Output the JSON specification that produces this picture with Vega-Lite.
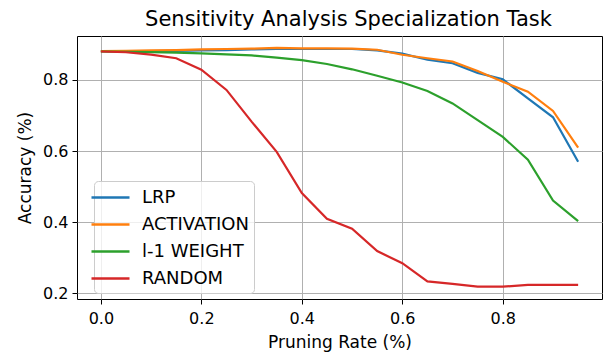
{
  "$schema": "https://vega.github.io/schema/vega-lite/v6.json",
  "width": 525,
  "height": 263,
  "autosize": "none",
  "padding": {"left": 77, "top": 36, "right": 4, "bottom": 59},
  "background": "white",
  "title": {
    "text": "Sensitivity Analysis Specialization Task",
    "font": "DejaVu Sans",
    "fontSize": 21,
    "fontWeight": "normal",
    "color": "black",
    "offset": 6,
    "dx": 9
  },
  "config": {
    "view": {"stroke": "black", "strokeWidth": 1},
    "font": "DejaVu Sans"
  },
  "data": {
    "values": [
      {"rate": 0.0, "method": "LRP", "acc": 0.881},
      {"rate": 0.05, "method": "LRP", "acc": 0.881},
      {"rate": 0.1, "method": "LRP", "acc": 0.881},
      {"rate": 0.15, "method": "LRP", "acc": 0.882},
      {"rate": 0.2, "method": "LRP", "acc": 0.883},
      {"rate": 0.25, "method": "LRP", "acc": 0.884},
      {"rate": 0.3, "method": "LRP", "acc": 0.886},
      {"rate": 0.35, "method": "LRP", "acc": 0.887},
      {"rate": 0.4, "method": "LRP", "acc": 0.887},
      {"rate": 0.45, "method": "LRP", "acc": 0.887},
      {"rate": 0.5, "method": "LRP", "acc": 0.887},
      {"rate": 0.55, "method": "LRP", "acc": 0.883},
      {"rate": 0.6, "method": "LRP", "acc": 0.874},
      {"rate": 0.65, "method": "LRP", "acc": 0.857},
      {"rate": 0.7, "method": "LRP", "acc": 0.847},
      {"rate": 0.75, "method": "LRP", "acc": 0.820},
      {"rate": 0.8, "method": "LRP", "acc": 0.802},
      {"rate": 0.85, "method": "LRP", "acc": 0.748},
      {"rate": 0.9, "method": "LRP", "acc": 0.695},
      {"rate": 0.95, "method": "LRP", "acc": 0.570},
      {"rate": 0.0, "method": "ACTIVATION", "acc": 0.881},
      {"rate": 0.05, "method": "ACTIVATION", "acc": 0.882},
      {"rate": 0.1, "method": "ACTIVATION", "acc": 0.883},
      {"rate": 0.15, "method": "ACTIVATION", "acc": 0.884},
      {"rate": 0.2, "method": "ACTIVATION", "acc": 0.886},
      {"rate": 0.25, "method": "ACTIVATION", "acc": 0.887},
      {"rate": 0.3, "method": "ACTIVATION", "acc": 0.888},
      {"rate": 0.35, "method": "ACTIVATION", "acc": 0.890},
      {"rate": 0.4, "method": "ACTIVATION", "acc": 0.889},
      {"rate": 0.45, "method": "ACTIVATION", "acc": 0.889},
      {"rate": 0.5, "method": "ACTIVATION", "acc": 0.888},
      {"rate": 0.55, "method": "ACTIVATION", "acc": 0.885},
      {"rate": 0.6, "method": "ACTIVATION", "acc": 0.871},
      {"rate": 0.65, "method": "ACTIVATION", "acc": 0.861},
      {"rate": 0.7, "method": "ACTIVATION", "acc": 0.852},
      {"rate": 0.75, "method": "ACTIVATION", "acc": 0.825},
      {"rate": 0.8, "method": "ACTIVATION", "acc": 0.795},
      {"rate": 0.85, "method": "ACTIVATION", "acc": 0.767},
      {"rate": 0.9, "method": "ACTIVATION", "acc": 0.713},
      {"rate": 0.95, "method": "ACTIVATION", "acc": 0.610},
      {"rate": 0.0, "method": "l-1 WEIGHT", "acc": 0.880},
      {"rate": 0.05, "method": "l-1 WEIGHT", "acc": 0.879},
      {"rate": 0.1, "method": "l-1 WEIGHT", "acc": 0.878},
      {"rate": 0.15, "method": "l-1 WEIGHT", "acc": 0.877},
      {"rate": 0.2, "method": "l-1 WEIGHT", "acc": 0.875},
      {"rate": 0.25, "method": "l-1 WEIGHT", "acc": 0.872},
      {"rate": 0.3, "method": "l-1 WEIGHT", "acc": 0.869},
      {"rate": 0.35, "method": "l-1 WEIGHT", "acc": 0.863},
      {"rate": 0.4, "method": "l-1 WEIGHT", "acc": 0.856},
      {"rate": 0.45, "method": "l-1 WEIGHT", "acc": 0.845},
      {"rate": 0.5, "method": "l-1 WEIGHT", "acc": 0.830},
      {"rate": 0.55, "method": "l-1 WEIGHT", "acc": 0.812},
      {"rate": 0.6, "method": "l-1 WEIGHT", "acc": 0.793},
      {"rate": 0.65, "method": "l-1 WEIGHT", "acc": 0.769},
      {"rate": 0.7, "method": "l-1 WEIGHT", "acc": 0.734},
      {"rate": 0.75, "method": "l-1 WEIGHT", "acc": 0.687},
      {"rate": 0.8, "method": "l-1 WEIGHT", "acc": 0.640},
      {"rate": 0.85, "method": "l-1 WEIGHT", "acc": 0.576},
      {"rate": 0.9, "method": "l-1 WEIGHT", "acc": 0.461},
      {"rate": 0.95, "method": "l-1 WEIGHT", "acc": 0.403},
      {"rate": 0.0, "method": "RANDOM", "acc": 0.880},
      {"rate": 0.05, "method": "RANDOM", "acc": 0.878},
      {"rate": 0.1, "method": "RANDOM", "acc": 0.871},
      {"rate": 0.15, "method": "RANDOM", "acc": 0.861},
      {"rate": 0.2, "method": "RANDOM", "acc": 0.829},
      {"rate": 0.25, "method": "RANDOM", "acc": 0.772},
      {"rate": 0.3, "method": "RANDOM", "acc": 0.683},
      {"rate": 0.35, "method": "RANDOM", "acc": 0.598},
      {"rate": 0.4, "method": "RANDOM", "acc": 0.482},
      {"rate": 0.45, "method": "RANDOM", "acc": 0.410},
      {"rate": 0.5, "method": "RANDOM", "acc": 0.382},
      {"rate": 0.55, "method": "RANDOM", "acc": 0.319},
      {"rate": 0.6, "method": "RANDOM", "acc": 0.285},
      {"rate": 0.65, "method": "RANDOM", "acc": 0.234},
      {"rate": 0.7, "method": "RANDOM", "acc": 0.227},
      {"rate": 0.75, "method": "RANDOM", "acc": 0.219},
      {"rate": 0.8, "method": "RANDOM", "acc": 0.219},
      {"rate": 0.85, "method": "RANDOM", "acc": 0.224},
      {"rate": 0.9, "method": "RANDOM", "acc": 0.224},
      {"rate": 0.95, "method": "RANDOM", "acc": 0.224}
    ]
  },
  "mark": {"type": "line", "strokeWidth": 2.2, "clip": true},
  "encoding": {
    "x": {
      "field": "rate",
      "type": "quantitative",
      "scale": {"domain": [-0.0475, 0.9975], "nice": false, "zero": false},
      "axis": {
        "title": "Pruning Rate (%)",
        "values": [0, 0.2, 0.4, 0.6, 0.8],
        "format": ".1f",
        "grid": true,
        "gridColor": "#b0b0b0",
        "gridWidth": 1,
        "domain": false,
        "tickColor": "black",
        "tickSize": 5,
        "labelFontSize": 16,
        "labelColor": "black",
        "labelPadding": 6,
        "titleFontSize": 17,
        "titleFontWeight": "normal",
        "titleColor": "black",
        "titlePadding": 8
      }
    },
    "y": {
      "field": "acc",
      "type": "quantitative",
      "scale": {"domain": [0.1844, 0.9236], "nice": false, "zero": false},
      "axis": {
        "title": "Accuracy (%)",
        "values": [0.2, 0.4, 0.6, 0.8],
        "format": ".1f",
        "grid": true,
        "gridColor": "#b0b0b0",
        "gridWidth": 1,
        "domain": false,
        "tickColor": "black",
        "tickSize": 5,
        "labelFontSize": 16,
        "labelColor": "black",
        "labelPadding": 4,
        "titleFontSize": 17,
        "titleFontWeight": "normal",
        "titleColor": "black",
        "titlePadding": 8
      }
    },
    "color": {
      "field": "method",
      "type": "nominal",
      "sort": ["LRP", "ACTIVATION", "l-1 WEIGHT", "RANDOM"],
      "scale": {
        "domain": ["LRP", "ACTIVATION", "l-1 WEIGHT", "RANDOM"],
        "range": ["#1f77b4", "#ff7f0e", "#2ca02c", "#d62728"]
      },
      "legend": {
        "title": null,
        "orient": "none",
        "legendX": 17,
        "legendY": 145,
        "symbolType": "M-1.9,0H1.9",
        "symbolSize": 400,
        "symbolStrokeWidth": 2.5,
        "labelFontSize": 18,
        "labelColor": "black",
        "labelOffset": 20,
        "rowPadding": 6,
        "padding": 5,
        "fillColor": "rgba(255,255,255,0.8)",
        "strokeColor": "#cccccc",
        "cornerRadius": 4
      }
    }
  }
}
